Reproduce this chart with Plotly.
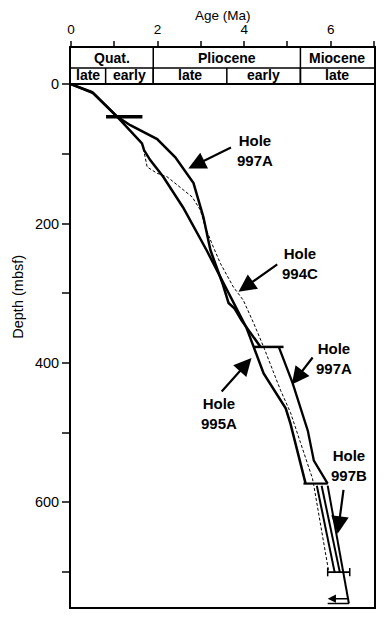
import plotly.graph_objects as go

# ---- data (age in Ma, depth in mbsf) ----
age_997A_up = [0, 0.49, 1.07, 1.37, 1.99, 2.41, 2.83, 3.06, 3.22, 3.50, 3.64, 3.78, 3.94, 4.38]
dep_997A_up = [0, 11.5, 47, 59, 79, 105, 142, 191, 238, 286, 314, 322, 339, 377]

age_995A = [0, 0.51, 1.07, 1.64, 1.69, 1.83, 2.13, 2.59, 3.13, 3.52, 3.91, 4.05, 4.22, 4.45, 4.96, 5.07, 5.42]
dep_995A = [0, 13, 47, 85, 95, 109, 133, 177, 238, 286, 333, 349, 377, 415, 465, 487, 573]

age_995A_low = [5.68, 6.09]
dep_995A_low = [576, 700]

age_994C = [0, 0.49, 1.07, 1.64, 1.69, 1.76, 1.99, 2.22, 2.52, 2.80, 2.99, 3.10, 3.29, 3.45,
            3.75, 3.98, 4.22, 4.45, 4.84, 5.07, 5.30, 5.58, 5.61, 5.95]
dep_994C = [0, 11.5, 47, 85, 98, 119, 128, 133, 148, 162, 181, 205, 234, 257,
            291, 310, 343, 377, 439, 471, 514, 566, 576, 698]

age_997A_low = [4.80, 5.12, 5.47, 5.61, 5.93]
dep_997A_low = [377, 429, 497, 540, 573]

age_997A_deep = [5.79, 6.21]
dep_997A_deep = [576, 700]

age_997B = [5.93, 6.30, 6.42]
dep_997B = [576, 700, 745]

# uncertainty bars: (depth, age_min, age_max, width)
bar_depth = [47, 377, 573, 700]
bar_min = [0.81, 4.22, 5.37, 5.93]
bar_max = [1.65, 4.91, 5.93, 6.44]
bar_w = [3.5, 2.5, 2.2, 1.8]

# chronostratigraphy
epoch_names = ["Quat.", "Pliocene", "Miocene"]
epoch_bounds = [0, 1.9, 5.3, 7.0]
sub_names = ["late", "early", "late", "early", "late"]
sub_bounds = [0, 0.8, 1.9, 3.6, 5.3, 7.0]

# labels: (text, text_age, text_depth, tip_age, tip_depth, tail_age, tail_depth)
labels = [
    ("Hole<br>997A", 4.26, 95, 2.71, 121, 3.73, 90),
    ("Hole<br>994C", 5.30, 258, 3.87, 298, 4.80, 257),
    ("Hole<br>997A", 6.07, 393, 5.10, 431, 5.61, 390),
    ("Hole<br>995A", 3.41, 472, 4.17, 393, 3.45, 443),
    ("Hole<br>997B", 6.42, 547, 6.16, 645, 6.30, 580),
]

FONT = "Liberation Sans, Arial, Helvetica, sans-serif"
X0, X1 = 0, 7.0
YTOP, YMID, YBOT = -51.7, -23, 0
YMAX = 750

fig = go.Figure()

def line(x, y, w=2.5, dash=None):
    fig.add_trace(go.Scatter(x=x, y=y, mode="lines",
                             line=dict(color="black", width=w, dash=dash),
                             showlegend=False, hoverinfo="skip"))

line(age_994C, dep_994C, 1.0, "3px,2px")
line(age_995A, dep_995A, 2.5)
line(age_995A_low, dep_995A_low, 2.0)
line(age_997A_up, dep_997A_up, 2.5)
line(age_997A_low, dep_997A_low, 2.3)
line(age_997A_deep, dep_997A_deep, 2.0)
line(age_997B, dep_997B, 2.0)

for d, a0, a1, w in zip(bar_depth, bar_min, bar_max, bar_w):
    line([a0, a1], [d, d], w)
# end caps on the 700 m bar
line([bar_min[3], bar_min[3]], [694, 706], 1.5)
line([bar_max[3], bar_max[3]], [694, 706], 1.5)
# bottom marks
line([5.93, 6.42], [745, 745], 1.5)

fig.add_annotation(x=5.93, y=738, ax=6.42, ay=738, xref="x", yref="y", axref="x", ayref="y",
                   text="", showarrow=True, arrowhead=2, arrowsize=1.1, arrowwidth=1.5,
                   arrowcolor="black")

# chronostratigraphic band
shapes = []
shapes.append(dict(type="line", xref="x", yref="y", x0=X0, x1=X1, y0=YMID, y1=YMID,
                   line=dict(color="black", width=1.5)))
shapes.append(dict(type="line", xref="x", yref="y", x0=X0, x1=X1, y0=YBOT, y1=YBOT,
                   line=dict(color="black", width=2)))
for b in epoch_bounds[1:-1]:
    shapes.append(dict(type="line", xref="x", yref="y", x0=b, x1=b, y0=YTOP, y1=YBOT,
                       line=dict(color="black", width=1.5)))
for b in sub_bounds[1:-1]:
    shapes.append(dict(type="line", xref="x", yref="y", x0=b, x1=b, y0=YMID, y1=YBOT,
                       line=dict(color="black", width=1.5)))
fig.update_layout(shapes=shapes)

for i, n in enumerate(epoch_names):
    fig.add_annotation(x=(epoch_bounds[i] + epoch_bounds[i + 1]) / 2, y=(YTOP + YMID) / 2,
                       text="<b>%s</b>" % n, showarrow=False, xref="x", yref="y",
                       font=dict(family=FONT, size=14, color="black"))
for i, n in enumerate(sub_names):
    fig.add_annotation(x=(sub_bounds[i] + sub_bounds[i + 1]) / 2, y=(YMID + YBOT) / 2 - 1,
                       text="<b>%s</b>" % n, showarrow=False, xref="x", yref="y",
                       font=dict(family=FONT, size=14, color="black"))

for t, tx, ty, hx, hy, sx, sy in labels:
    fig.add_annotation(x=tx, y=ty, text="<b>%s</b>" % t, showarrow=False, xref="x", yref="y",
                       align="center", font=dict(family=FONT, size=15, color="black"))
    fig.add_annotation(x=hx, y=hy, ax=sx, ay=sy, xref="x", yref="y", axref="x", ayref="y",
                       text="", showarrow=True, arrowhead=2, arrowsize=1.6, arrowwidth=2.2,
                       arrowcolor="black", standoff=0)

# axis titles
fig.add_annotation(x=0.5, y=1.0578, xref="paper", yref="paper", text="Age (Ma)",
                   xanchor="center", yanchor="middle", showarrow=False,
                   font=dict(family=FONT, size=13.5, color="black"))
fig.add_annotation(x=-0.175, y=0.555, xref="paper", yref="paper", text="Depth (mbsf)",
                   xanchor="center", yanchor="middle",
                   textangle=-90, showarrow=False, font=dict(family=FONT, size=14.5, color="black"))

# page body has an 8px default margin, so the figure is sized/offset to compensate
fig.update_layout(
    width=379, height=613,
    margin=dict(l=63, r=13, t=40, b=14, autoexpand=False),
    paper_bgcolor="white", plot_bgcolor="white",
    font=dict(family=FONT, size=14, color="black"),
    xaxis=dict(side="top", range=[X0, X1], tickvals=[0, 2, 4, 6], ticks="outside", ticklen=5,
               tickwidth=1.5, showgrid=False, zeroline=False, showline=True, linewidth=2,
               linecolor="black", mirror=True, automargin=False, ticklabelstandoff=2,
               tickfont=dict(family=FONT, size=13.5),
               minor=dict(tickvals=[1, 3, 5, 7], ticks="outside", ticklen=5, tickwidth=1.5,
                          showgrid=False)),
    yaxis=dict(range=[YMAX, YTOP], tickvals=[0, 200, 400, 600], ticks="outside", ticklen=7,
               tickwidth=1.5, showgrid=False, zeroline=False, showline=True, linewidth=2,
               linecolor="black", mirror=True, automargin=False,
               tickfont=dict(family=FONT, size=14.5),
               minor=dict(tickvals=[100, 300, 500, 700], ticks="outside", ticklen=7,
                          tickwidth=1.5, showgrid=False)),
)

fig.write_html("out.html")
